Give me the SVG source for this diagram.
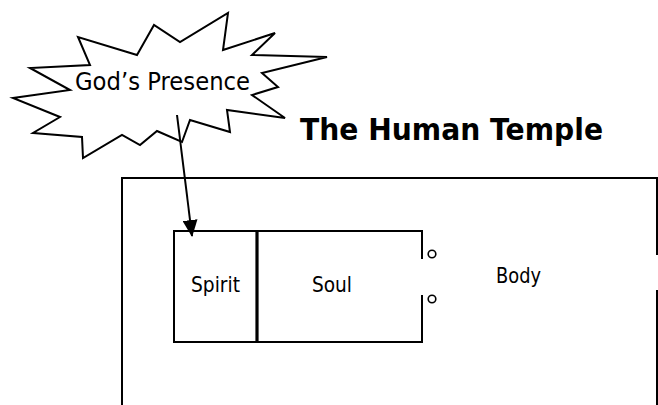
<svg xmlns="http://www.w3.org/2000/svg" width="658" height="405" viewBox="0 0 658 405">
<style>
  .ln { fill: none; stroke: #000; stroke-width: 2; }
  .txt { font-family: Tahoma, "DejaVu Sans", sans-serif; fill: #000; }
</style>
<defs>
  <marker id="ah" viewBox="0 0 17 15" refX="16" refY="7.5" markerWidth="17" markerHeight="15" markerUnits="userSpaceOnUse" orient="auto">
    <path d="M0,0 L17,7.5 L0,15 Z" fill="#000"/>
  </marker>
</defs>
<rect width="658" height="405" fill="#fff"/>
<g id="body">
  <path class="ln" d="M122,405 V178 H657 V255 M657,290 V405"/>
  <text class="txt" x="496" y="283" font-size="21" textLength="45" lengthAdjust="spacingAndGlyphs">Body</text>
</g>
<g id="soul">
  <path class="ln" d="M257,231 H422 V259 M422,295 V342 H257"/>
  <circle cx="432" cy="254" r="3.8" fill="none" stroke="#000" stroke-width="1.6"/>
  <circle cx="432" cy="299" r="3.8" fill="none" stroke="#000" stroke-width="1.6"/>
  <text class="txt" x="312" y="292" font-size="21" textLength="40" lengthAdjust="spacingAndGlyphs">Soul</text>
</g>
<g id="spirit">
  <path class="ln" d="M257,231 H174 V342 H257"/>
  <line x1="257" y1="230" x2="257" y2="343" stroke="#000" stroke-width="3.2"/>
  <text class="txt" x="191" y="292" font-size="21" textLength="49" lengthAdjust="spacingAndGlyphs">Spirit</text>
</g>
<g id="gods-presence">
  <polygon class="ln" stroke-width="1.8" stroke-linejoin="miter" fill="#fff" points="327,57 262,73 278,87 252,95 285,118 227,110 230,132 190,120 182,142 157,131 140,145 122,135 83,158 82,137 33,133 60,117 13,98 70,90 30,68 90,65 78,37 137,55 154,25 180,42 228,13 223,50 275,33 252,55"/>
  <text class="txt" x="75" y="90" font-size="24" textLength="175" lengthAdjust="spacingAndGlyphs">God’s Presence</text>
</g>
<g id="title">
  <text class="txt" x="300" y="140" font-size="31" font-weight="bold" textLength="303" lengthAdjust="spacingAndGlyphs">The Human Temple</text>
</g>
<g id="connectors">
  <line x1="177" y1="115" x2="192" y2="236" stroke="#000" stroke-width="2" marker-end="url(#ah)"/>
</g>
</svg>
